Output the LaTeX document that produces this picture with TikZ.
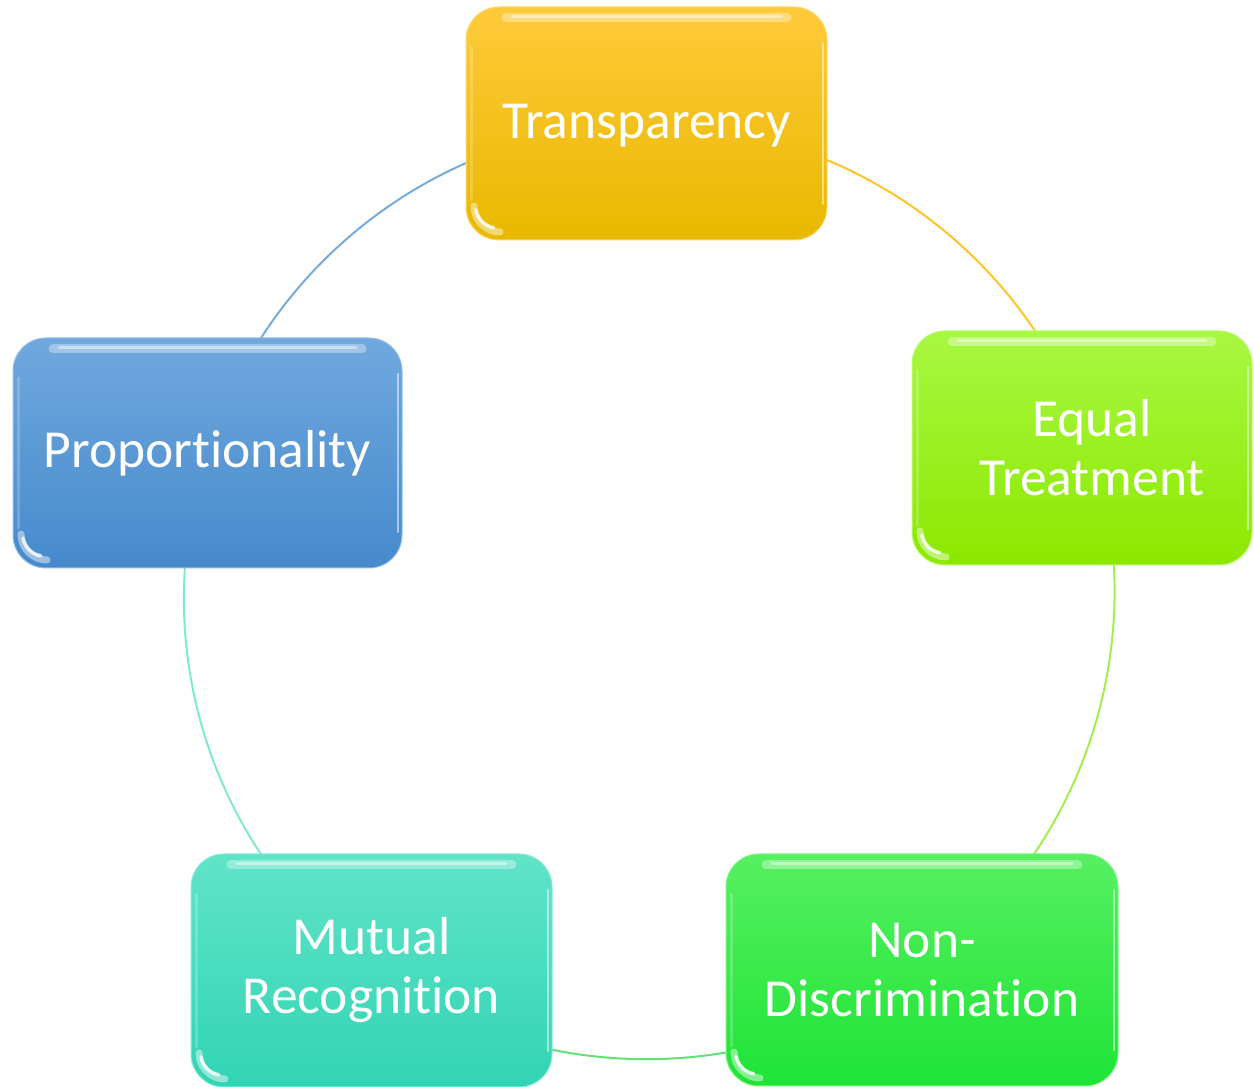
\documentclass[tikz,border=0pt]{standalone}
\usepackage{fontspec}
\setmainfont{Carlito}[Ligatures={NoCommon,NoRequired,NoContextual}]
\usetikzlibrary{backgrounds}
\definecolor{tTop}{RGB}{255,202,58}
\definecolor{tBot}{RGB}{232,185,0}
\definecolor{pTop}{RGB}{112,168,222}
\definecolor{pBot}{RGB}{70,138,204}
\definecolor{eTop}{RGB}{168,248,66}
\definecolor{eBot}{RGB}{140,232,0}
\definecolor{nTop}{RGB}{86,240,96}
\definecolor{nBot}{RGB}{30,228,54}
\definecolor{mTop}{RGB}{96,228,200}
\definecolor{mBot}{RGB}{50,212,180}
\definecolor{tArc}{RGB}{255,196,40}
\definecolor{pArc}{RGB}{120,170,220}
\definecolor{eArc}{RGB}{166,236,80}
\definecolor{nArc}{RGB}{96,226,120}
\definecolor{mArc}{RGB}{130,232,210}
\tikzset{
  box/.style 2 args={rectangle, rounded corners=33pt, minimum height=233pt,
    text=white, align=center, inner sep=0pt,
    font=\fontsize{53.5}{59}\selectfont,
    top color=#1, bottom color=#2, draw=#1!75!white, line width=1pt,
    path picture={
      \draw[white, opacity=0.35, line width=9pt, line cap=round]
        ([xshift=40pt,yshift=-11pt]path picture bounding box.north west) --
        ([xshift=-40pt,yshift=-11pt]path picture bounding box.north east);
      \draw[white, opacity=0.45, line width=3pt, line cap=round]
        ([xshift=46pt,yshift=-10pt]path picture bounding box.north west) --
        ([xshift=-46pt,yshift=-10pt]path picture bounding box.north east);
      \draw[white, opacity=0.5, line width=2.5pt, line cap=round]
        ([xshift=-4pt,yshift=-36pt]path picture bounding box.north east) --
        ([xshift=-4pt,yshift=36pt]path picture bounding box.south east);
      \draw[white, opacity=0.2, line width=3pt, line cap=round]
        ([xshift=5pt,yshift=-40pt]path picture bounding box.north west) --
        ([xshift=5pt,yshift=40pt]path picture bounding box.south west);
      \draw[white, opacity=0.45, line width=7pt, line cap=round]
        ([xshift=8pt,yshift=34pt]path picture bounding box.south west)
        arc[start angle=180, end angle=270, radius=26pt];
      \draw[white, opacity=0.8, line width=3.5pt, line cap=round]
        ([xshift=10pt,yshift=30pt]path picture bounding box.south west)
        arc[start angle=190, end angle=260, radius=22pt];
    }},
  ring/.style={line width=2pt, looseness=0.94, bend left=36}
}
\begin{document}
\begin{tikzpicture}[x=1pt,y=1pt]
\useasboundingbox (0,0) rectangle (1254,1087);
\node[box={tTop}{tBot}, minimum width=361pt] (T) at (646.5,963.5)
  {\raisebox{-15.5pt}[0pt][0pt]{Transparency}};
\node[box={eTop}{eBot}, minimum width=340pt, minimum height=234pt] (E) at (1082,639)
  {\hspace*{20pt}Equal\\\hspace*{20pt}Treatment};
\node[box={nTop}{nBot}, minimum width=392pt, minimum height=232pt] (N) at (922,117)
  {Non-\\Discrimination};
\node[box={mTop}{mBot}, minimum width=361pt] (M) at (371.5,116.5) {Mutual\\Recognition};
\node[box={pTop}{pBot}, minimum width=389pt, minimum height=230pt] (P) at (207.5,634)
  {\raisebox{-15pt}[0pt][0pt]{Proportionality}};
\begin{scope}[on background layer]
  \draw[ring, tArc] (T.center) to ([xshift=10pt]E.center);
  \draw[ring, eArc] ([xshift=10pt]E.center) to (N.center);
  \draw[ring, nArc] (N.center) to (M.center);
  \draw[ring, mArc] (M.center) to (P.center);
  \draw[ring, pArc] (P.center) to (T.center);
\end{scope}
\end{tikzpicture}
\end{document}
